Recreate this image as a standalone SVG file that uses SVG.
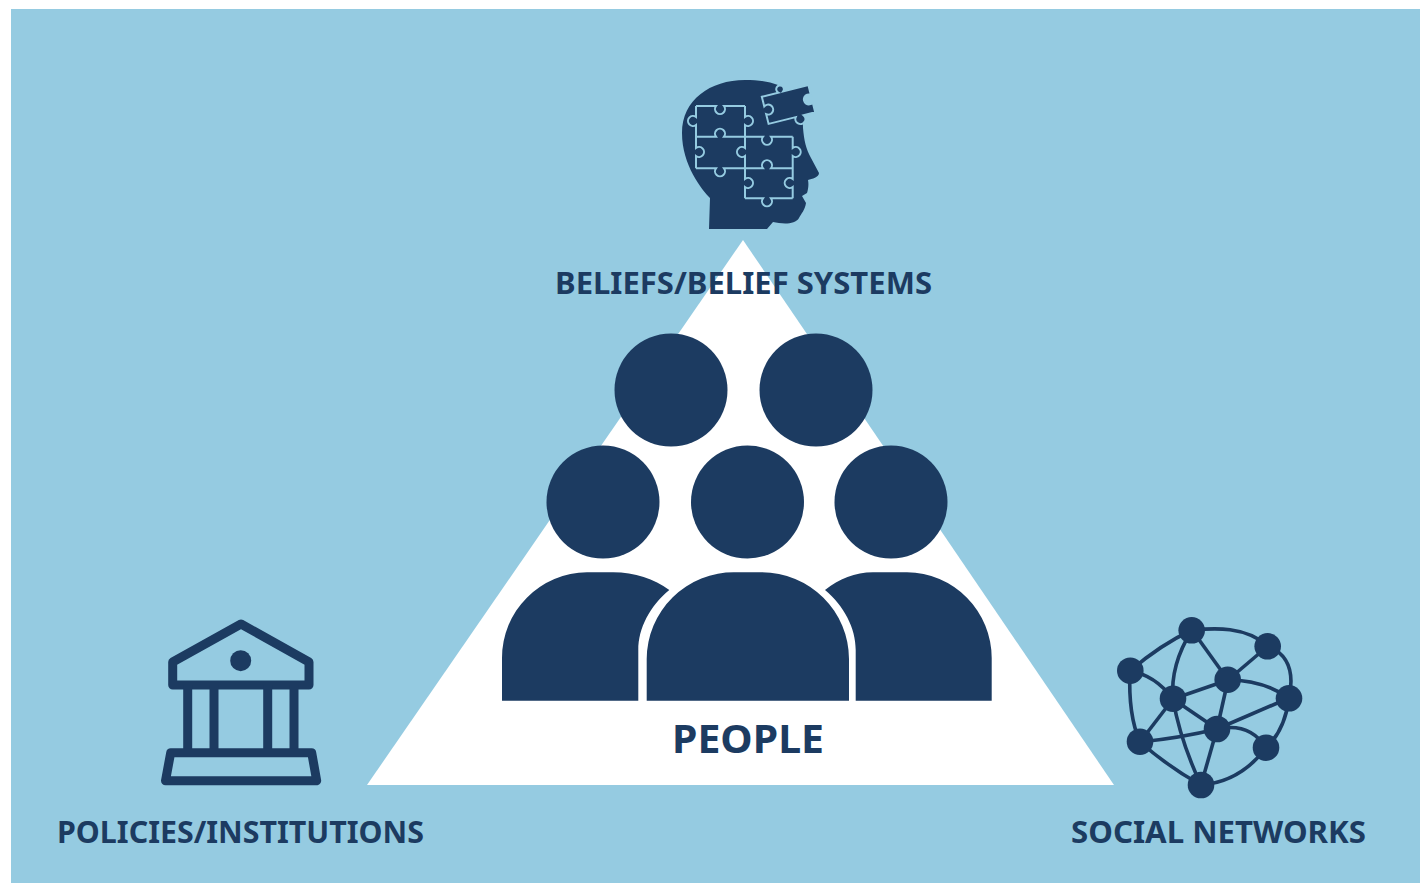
<svg xmlns="http://www.w3.org/2000/svg" width="1420" height="884" viewBox="0 0 1420 884">
<style>
.d{fill:#1c3b61}
.t{font-family:"Noto Sans","Open Sans","Liberation Sans",sans-serif;font-weight:700;fill:#1c3b61;font-size:31px}
.pz{fill:none;stroke:#95cbe1;stroke-width:2}
.ln{fill:none;stroke:#1c3b61;stroke-width:3.600}
.tm{fill:none;stroke:#1c3b61;stroke-width:9;stroke-linejoin:round}
</style>
<rect width="1420" height="884" fill="#fff"/>
<rect x="11" y="9" width="1409" height="874" fill="#95cbe1"/>
<g id="triangle"><polygon points="743,240 1114,785 367,785" fill="#fff"/></g>
<g id="people">
<circle class="d" cx="671" cy="390" r="56.500"/>
<circle class="d" cx="816" cy="390" r="56.500"/>
<circle class="d" cx="603" cy="502" r="56.500"/>
<circle class="d" cx="747.500" cy="502" r="56.500"/>
<circle class="d" cx="891" cy="502" r="56.500"/>
<path class="d" d="M502 700.700V658A85.700 85.700 0 0 1 587 572.300H613C635 572.300 654 579 669.300 590C650 606 638.300 628 638.300 650V700.700Z"/>
<path class="d" d="M646.700 700.700V659A87 87 0 0 1 735 572.300H762A87 87 0 0 1 849 659V700.700Z"/>
<path class="d" d="M991.700 700.700V658A85.700 85.700 0 0 0 907 572.300H873C855 572.300 839 579 825 590C844 606 855.700 628 855.700 650V700.700Z"/>
<text class="t" x="748" y="753" text-anchor="middle" style="font-size:40px" textLength="152" lengthAdjust="spacingAndGlyphs">PEOPLE</text>
</g>
<g id="beliefs">
<path class="d" d="M709 229L710 198C702 190 682 165 682 133C682 100 710 80 745 80C757 80 768 81 778 85L797 100C802 110 803 118 803 128C804 140 806 149 811 158L819 173C819 177 812 179 808 180C809 185 808 190 807 193L802 196L806 203C805 210 801 214 799 218C795 225 782 224 773 222L767 229Z"/>
<path class="pz" d="M696 106H716a5 5 0 1 0 8 0H745"/>
<path class="pz" d="M696 136.700H716a5 5 0 1 1 8 0H763a5 5 0 1 0 8 0H792.700"/>
<path class="pz" d="M696 168.300H716a5 5 0 1 0 8 0H763a5 5 0 1 1 8 0H792.700"/>
<path class="pz" d="M745 198.300H763a5 5 0 1 0 8 0H792.700"/>
<path class="pz" d="M696 106V117a5 5 0 1 0 0 8V148a5 5 0 1 1 0 8V168.300"/>
<path class="pz" d="M745 106V117a5 5 0 1 1 0 8V148a5 5 0 1 0 0 8V179a5 5 0 1 1 0 8V198.300"/>
<path class="pz" d="M792.700 136.700V148a5 5 0 1 1 0 8V179a5 5 0 1 0 0 8V198.300"/>
<path class="d" style="stroke:#95cbe1;stroke-width:2" transform="translate(788.500 104.500) rotate(-14)" d="M-24 -14H-7a3.800 3.800 0 1 1 5 0H24V-4a5 5 0 1 0 0 8V14H12a5 5 0 1 1 -8 0H-24V4a5 5 0 1 0 0 -8Z"/>
<text class="t" x="743.500" y="294" text-anchor="middle" textLength="377" lengthAdjust="spacingAndGlyphs">BELIEFS/BELIEF SYSTEMS</text>
</g>
<g id="policies">
<path class="tm" d="M172.700 685V662L241 624L309 662V685Z"/>
<circle class="d" cx="240.700" cy="660.700" r="10.500"/>
<path class="tm" style="stroke-linecap:butt" d="M187.700 685V752M214 685V752M267.700 685V752M294 685V752"/>
<path class="tm" d="M170.700 752.700H311.700L316.700 780.700H165.500Z"/>
<text class="t" x="240.500" y="843" text-anchor="middle" textLength="367" lengthAdjust="spacingAndGlyphs">POLICIES/INSTITUTIONS</text>
</g>
<g id="connectors">
<path class="ln" d="M1192 630Q1160 645 1130 671"/>
<path class="ln" d="M1192 630C1215 628 1245 626 1268 646"/>
<path class="ln" d="M1192 630Q1170 665 1173 699"/>
<path class="ln" d="M1192 630L1228 680"/>
<path class="ln" d="M1268 646L1228 680"/>
<path class="ln" d="M1268 646C1290 655 1294 675 1289 698"/>
<path class="ln" d="M1130 671Q1155 675 1173 699"/>
<path class="ln" d="M1130 671Q1128 715 1140 742"/>
<path class="ln" d="M1228 680L1173 699"/>
<path class="ln" d="M1228 680Q1263 680 1289 698"/>
<path class="ln" d="M1228 680L1217 729"/>
<path class="ln" d="M1173 699L1217 729"/>
<path class="ln" d="M1173 699L1140 742"/>
<path class="ln" d="M1173 699Q1180 740 1201 785"/>
<path class="ln" d="M1289 698L1217 729"/>
<path class="ln" d="M1289 698Q1285 730 1266 748"/>
<path class="ln" d="M1217 729Q1180 738 1140 742"/>
<path class="ln" d="M1217 729Q1250 722 1266 748"/>
<path class="ln" d="M1217 729L1201 785"/>
<path class="ln" d="M1140 742Q1170 768 1201 785"/>
<path class="ln" d="M1266 748Q1240 782 1201 785"/>
</g>
<g id="social-networks">
<circle class="d" cx="1191.700" cy="630.300" r="13.300"/>
<circle class="d" cx="1267.700" cy="646.300" r="13.300"/>
<circle class="d" cx="1130.300" cy="670.700" r="13.300"/>
<circle class="d" cx="1227.700" cy="679.700" r="13.300"/>
<circle class="d" cx="1173" cy="698.700" r="13.300"/>
<circle class="d" cx="1289" cy="698.300" r="13.300"/>
<circle class="d" cx="1217" cy="729" r="13.300"/>
<circle class="d" cx="1140" cy="741.700" r="13.300"/>
<circle class="d" cx="1266" cy="747.700" r="13.300"/>
<circle class="d" cx="1201" cy="785" r="13.300"/>
<text class="t" x="1218.500" y="843" text-anchor="middle" textLength="295" lengthAdjust="spacingAndGlyphs">SOCIAL NETWORKS</text>
</g>
</svg>
